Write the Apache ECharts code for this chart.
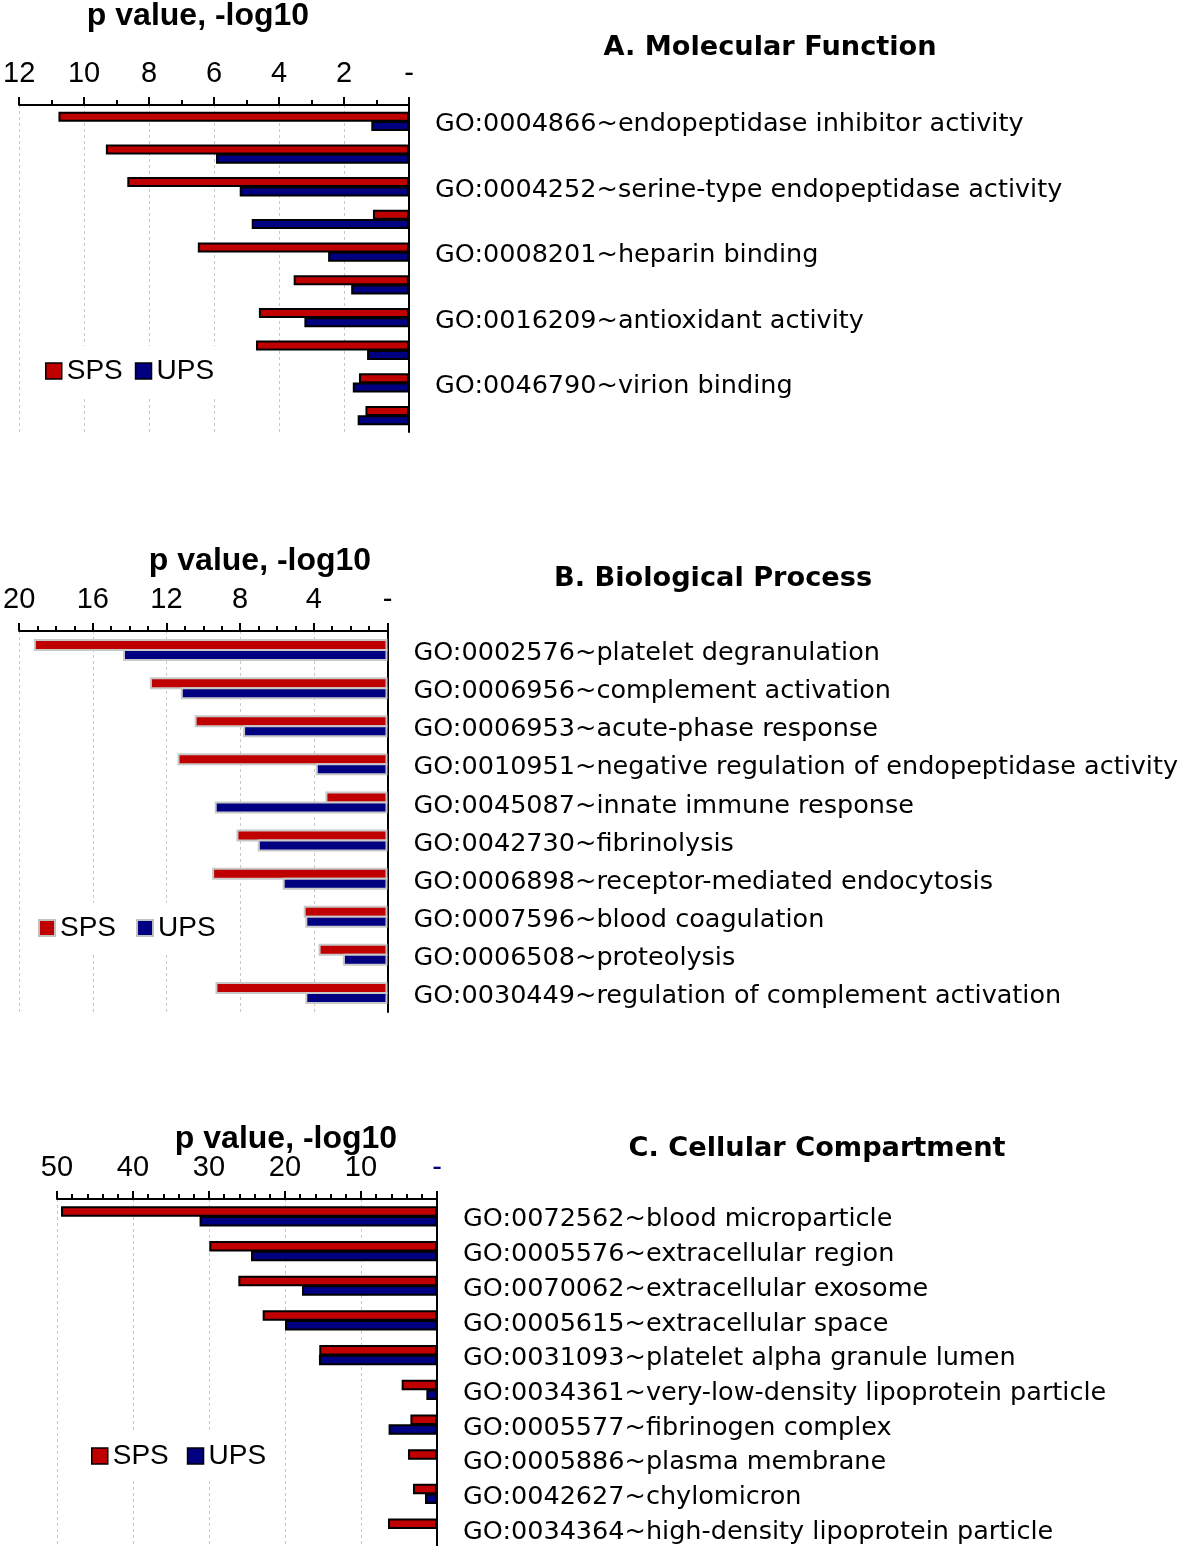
<!DOCTYPE html>
<html>
<head>
<meta charset="utf-8">
<script src="https://cdn.jsdelivr.net/npm/echarts@6/dist/echarts.min.js"></script>
<style>
html,body{margin:0;padding:0;background:#fff;}
#chart{width:1181px;height:1546px;}
</style>
</head>
<body>
<div id="chart"></div>
<script>
// ---------- Data ----------
const seriesNames = ['SPS', 'UPS'];

const catA = [
  'GO:0004866~endopeptidase inhibitor activity', '',
  'GO:0004252~serine-type endopeptidase activity', '',
  'GO:0008201~heparin binding', '',
  'GO:0016209~antioxidant activity', '',
  'GO:0046790~virion binding', ''
];
const spsA = [10.79, 9.33, 8.67, 1.11, 6.50, 3.55, 4.62, 4.71, 1.54, 1.34];
const upsA = [1.16, 5.94, 5.21, 4.84, 2.49, 1.78, 3.22, 1.29, 1.73, 1.58];
const ticksA = { min: 0, max: 12, interval: 2 };

const catB = [
  'GO:0002576~platelet degranulation',
  'GO:0006956~complement activation',
  'GO:0006953~acute-phase response',
  'GO:0010951~negative regulation of endopeptidase activity',
  'GO:0045087~innate immune response',
  'GO:0042730~fibrinolysis',
  'GO:0006898~receptor-mediated endocytosis',
  'GO:0007596~blood coagulation',
  'GO:0006508~proteolysis',
  'GO:0030449~regulation of complement activation'
];
const spsB = [19.2, 12.9, 10.47, 11.4, 3.37, 8.2, 9.52, 4.55, 3.74, 9.34];
const upsB = [14.36, 11.22, 7.84, 3.89, 9.38, 7.04, 5.69, 4.46, 2.42, 4.46];
const ticksB = { min: 0, max: 20, interval: 4 };

const catC = [
  'GO:0072562~blood microparticle',
  'GO:0005576~extracellular region',
  'GO:0070062~extracellular exosome',
  'GO:0005615~extracellular space',
  'GO:0031093~platelet alpha granule lumen',
  'GO:0034361~very-low-density lipoprotein particle',
  'GO:0005577~fibrinogen complex',
  'GO:0005886~plasma membrane',
  'GO:0042627~chylomicron',
  'GO:0034364~high-density lipoprotein particle'
];
const spsC = [49.47, 29.96, 26.14, 22.94, 15.49, 4.65, 3.5, 3.82, 3.16, 6.45];
const upsC = [31.24, 24.47, 17.76, 20.0, 15.53, 1.4, 6.37, 0, 1.58, 0];
const ticksC = { min: 0, max: 50, interval: 10 };

const axisTitle = 'p value, -log10';
const panelTitles = ['A. Molecular Function', 'B. Biological Process', 'C. Cellular Compartment'];

// ---------- Styles ----------
const RED = '#C00000';
const NAVY = '#000080';
const LABEL_FONT = 'DejaVu Sans';
const TICK_FONT = 'Liberation Sans';

function xAxisFor(gi, t, minorSplit, zeroColor) {
  return {
    type: 'value', gridIndex: gi, position: 'top', inverse: true,
    min: t.min, max: t.max, interval: t.interval,
    axisLine: { show: true, lineStyle: { color: '#000', width: 2 } },
    axisTick: { show: true, length: 8, inside: false, lineStyle: { color: '#000', width: 2 } },
    minorTick: { show: true, splitNumber: minorSplit, length: 5, lineStyle: { color: '#000', width: 2 } },
    splitLine: { show: true, lineStyle: { color: '#c8c8c8', width: 1, type: [3, 3] } },
    axisLabel: {
      show: true, margin: 17, fontFamily: TICK_FONT, fontSize: 29,
      color: function (v) { return Number(v) === 0 ? zeroColor : '#000'; },
      showMinLabel: true, showMaxLabel: true,
      formatter: function (v) { return v === 0 ? '-' : String(v); }
    }
  };
}
function yAxisFor(gi, cats, interval, fs) {
  return {
    type: 'category', gridIndex: gi, position: 'right', inverse: true, data: cats,
    axisLine: { show: true, lineStyle: { color: '#000', width: 2 } },
    axisTick: { show: false },
    splitLine: { show: false },
    axisLabel: { show: true, interval: interval, margin: 26, verticalAlign: 'top', lineHeight: 7,
      fontFamily: LABEL_FONT, fontSize: fs, color: '#000' }
  };
}
function barSeries(name, gi, data, color, border, bw, gap) {
  return {
    type: 'bar', name: name, xAxisIndex: gi, yAxisIndex: gi, data: data,
    barWidth: bw, barGap: gap,
    itemStyle: { color: color, borderColor: border.color, borderWidth: border.width },
    emphasis: { disabled: true }
  };
}
function legendFor(left, top, gap, border) {
  return {
    left: left, top: top, orient: 'horizontal', selectedMode: false,
    backgroundColor: '#fff', padding: [10, 10],
    itemWidth: 16, itemHeight: 16, itemGap: gap, icon: 'rect',
    textStyle: { fontFamily: TICK_FONT, fontSize: 28, color: '#000', lineHeight: 30 },
    data: [
      { name: 'SPS', itemStyle: { color: RED, borderColor: border.color, borderWidth: border.width } },
      { name: 'UPS', itemStyle: { color: NAVY, borderColor: border.color, borderWidth: border.width } }
    ]
  };
}
function titleText(x, y, text, font, size) {
  return { type: 'text', x: x, y: y, silent: true,
    style: { text: text, fill: '#000', font: 'bold ' + size + 'px "' + font + '"', textAlign: 'center', textVerticalAlign: 'middle' } };
}

const blackB = { color: '#000', width: 2 };
const grayB = { color: '#c8c8c8', width: 2 };

const option = {
  animation: false,
  backgroundColor: '#fff',
  graphic: [
    titleText(198, 16, axisTitle, 'Liberation Sans', 32),
    titleText(260, 561, axisTitle, 'Liberation Sans', 32),
    titleText(286, 1139, axisTitle, 'Liberation Sans', 32),
    titleText(770, 48, panelTitles[0], 'DejaVu Sans', 27.2),
    titleText(713, 579, panelTitles[1], 'DejaVu Sans', 27.2),
    titleText(817, 1149, panelTitles[2], 'DejaVu Sans', 27.2)
  ],
  legend: [
    legendFor(35, 346, 12, { color: '#000', width: 1.5 }),
    legendFor(28, 903, 20, { color: '#c0c0c0', width: 2 }),
    legendFor(81, 1431, 18, { color: '#000', width: 1.5 })
  ],
  grid: [
    { left: 12, top: 105, width: 397, height: 327, containLabel: false },
    { left: 15, top: 631, width: 373, height: 381, containLabel: false },
    { left: 57, top: 1199, width: 380, height: 347, containLabel: false }
  ],
  xAxis: [
    xAxisFor(0, ticksA, 2, '#000'),
    xAxisFor(1, ticksB, 4, '#000'),
    xAxisFor(2, ticksC, 5, NAVY)
  ],
  yAxis: [
    yAxisFor(0, catA, 1, 25.5),
    yAxisFor(1, catB, 0, 25.5),
    yAxisFor(2, catC, 0, 25.5)
  ],
  series: [
    barSeries(seriesNames[0], 0, spsA, RED, blackB, 10, '-7%'),
    barSeries(seriesNames[1], 0, upsA, NAVY, blackB, 10, '-7%'),
    barSeries(seriesNames[0], 1, spsB, RED, grayB, 12, '-17%'),
    barSeries(seriesNames[1], 1, upsB, NAVY, grayB, 12, '-17%'),
    barSeries(seriesNames[0], 2, spsC, RED, blackB, 10.5, '-8%'),
    barSeries(seriesNames[1], 2, upsC, NAVY, blackB, 10.5, '-8%')
  ]
};

const chart = echarts.init(document.getElementById('chart'), null, { renderer: 'canvas' });
chart.setOption(option);
</script>
</body>
</html>
